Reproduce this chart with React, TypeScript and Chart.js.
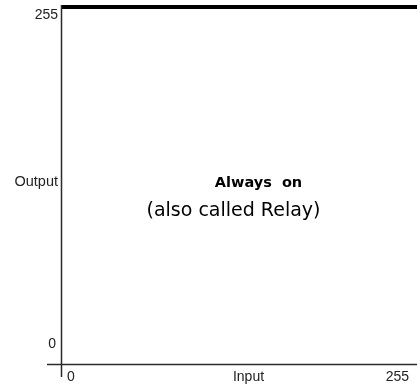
import React, { useEffect, useRef } from "react";
import { Chart, registerables } from "chart.js";

Chart.register(...registerables);

const inputValues = [0, 255];
const outputValues = [255, 255];
const yTickLabels = ["0", "255"];
const xTickLabels = ["0", "255"];
const xAxisTitle = "Input";
const yAxisTitle = "Output";
const titleText = "Always  on";
const subtitleText = "(also called Relay)";

const overlay = {
  id: "overlay",
  afterDraw(chart: any) {
    const ctx = chart.ctx;
    const xs = chart.scales.x;
    const ys = chart.scales.y;
    const x0 = xs.getPixelForValue(0);
    const x255 = xs.getPixelForValue(255);
    const y0 = ys.getPixelForValue(0);
    const y255 = ys.getPixelForValue(255);
    ctx.save();
    // axes
    ctx.strokeStyle = "#2a2a2a";
    ctx.lineWidth = 1.5;
    ctx.beginPath();
    ctx.moveTo(Math.round(x0) - 0.5, y255 - 2);
    ctx.lineTo(Math.round(x0) - 0.5, y0 + 13);
    ctx.stroke();
    ctx.beginPath();
    ctx.moveTo(x0 - 15, Math.round(y0) + 0.5);
    ctx.lineTo(x255 + 5, Math.round(y0) + 0.5);
    ctx.stroke();

    ctx.fillStyle = "#222";
    ctx.font = "14px 'Liberation Sans', Arial, sans-serif";
    ctx.textBaseline = "middle";
    // y labels
    ctx.textAlign = "right";
    ctx.fillText(yTickLabels[1], x0 - 4, y255 + 8);
    ctx.fillText(yTickLabels[0], x0 - 6, y0 - 20);
    ctx.font = "14.5px 'Liberation Sans', Arial, sans-serif";
    ctx.fillText(yAxisTitle, x0 - 4, (y0 + y255) / 2 - 4);
    // x labels
    ctx.font = "14px 'Liberation Sans', Arial, sans-serif";
    ctx.textAlign = "left";
    ctx.fillText(xTickLabels[0], x0 + 5, y0 + 13);
    ctx.textAlign = "right";
    ctx.fillText(xTickLabels[1], x255 - 8, y0 + 13);
    ctx.textAlign = "center";
    ctx.font = "14px 'Liberation Sans', Arial, sans-serif";
    ctx.fillText(xAxisTitle, (x0 + x255) / 2 + 9, y0 + 13);

    // annotations
    ctx.fillStyle = "#000";
    ctx.font = "bold 14.5px 'DejaVu Sans', Verdana, sans-serif";
    ctx.fillText(titleText, (x0 + x255) / 2 + 19, (y0 + y255) / 2 - 2);
    ctx.font = "19px 'DejaVu Sans', Verdana, sans-serif";
    ctx.fillText(subtitleText, (x0 + x255) / 2 - 6, (y0 + y255) / 2 + 26);
    ctx.restore();
  },
};

export default function App() {
  const ref = useRef<HTMLCanvasElement>(null);
  useEffect(() => {
    if (!ref.current) return;
    const chart = new Chart(ref.current, {
      type: "line",
      data: {
        datasets: [
          {
            data: inputValues.map((x, i) => ({ x, y: outputValues[i] })),
            borderColor: "#000",
            borderWidth: 4,
            pointRadius: 0,
            clip: false as any,
            fill: false,
          },
        ],
      },
      options: {
        animation: false,
        responsive: false,
        layout: { padding: { left: 62, top: 7, right: 0, bottom: 28 } },
        plugins: { legend: { display: false }, tooltip: { enabled: false } },
        scales: {
          x: { type: "linear", min: 0, max: 255, display: false },
          y: { type: "linear", min: 0, max: 255, display: false },
        },
      },
      plugins: [overlay],
    });
    return () => chart.destroy();
  }, []);
  return (
    <div style={{ position: "fixed", left: 0, top: 0, width: 417, height: 392, background: "#fff" }}>
      <canvas ref={ref} width={417} height={392} />
    </div>
  );
}
